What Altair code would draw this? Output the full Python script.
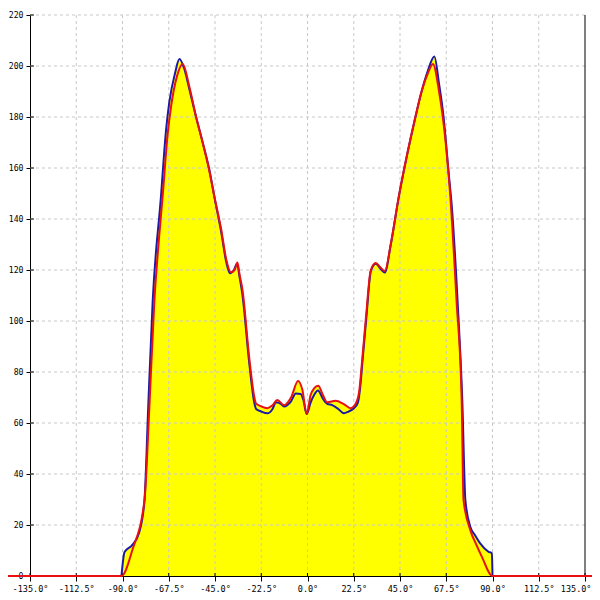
import altair as alt
import pandas as pd

# ---- data ----
red_x = [-180, -90.5, -85.2, -79.3, -77.0, -74.5, -72.5, -70.5, -68.0, -66.4, -63.5, -60.7,
         -57.5, -54.2, -51.0, -47.8, -45.3, -42.0, -39.5, -37.3, -35.5, -34.1, -33.0, -31.6,
         -28.4, -25.9, -25.1, -22.5, -19.5, -17.0, -14.7, -11.4, -8.0, -4.6, -2.5, -0.4,
         1.5, 3.2, 5.2, 7.5, 9.6, 13.7, 17.5, 21.0, 23.0, 25.0, 26.6, 28.5, 30.8, 33.2,
         35.5, 37.6, 40.5, 44.4, 48.4, 52.5, 55.5, 58.5, 61.0, 64.0, 67.1, 69.5, 72.5,
         75.0, 75.9, 79.2, 82.0, 84.8, 90.0, 180]
red_y = [0, 0, 10.2, 29.8, 65, 108, 130, 148.7, 173.6, 184, 196, 200.8,
         192, 180, 170, 159, 148.7, 136, 124, 119.1, 120, 122.9, 118, 112,
         86, 70.3, 67.7, 66.5, 65.8, 67, 69, 67, 70, 76.5, 73, 63.5,
         71, 73.6, 74.6, 71, 68.1, 68.7, 67.5, 65.8, 67, 71.6, 84.7, 102, 120, 122.7,
         121, 119.6, 130, 148.7, 165, 180, 190, 197, 200.8, 190, 171, 148.7, 108,
         69, 29.8, 18, 12.5, 7.6, 0, 0]

blue_x = [-90.5, -89.0, -85.2, -81.8, -79.3, -77.5, -75.3, -71.3, -68.8, -67.2, -64.5, -62.3,
          -60.0, -57.5, -54.2, -51.0, -47.8, -45.3, -42.0, -39.5, -37.7, -35.8, -34.3, -33.0,
          -31.6, -28.4, -25.9, -25.0, -22.5, -19.5, -17.0, -15.4, -13.0, -11.4, -8.0, -5.7,
          -3.3, -2.0, -0.4, 1.5, 3.2, 5.1, 7.5, 9.6, 12.0, 15.0, 17.7, 20.0, 22.6, 24.5,
          25.5, 26.8, 28.7, 30.8, 33.2, 35.5, 37.6, 40.5, 44.4, 48.4, 52.5, 55.5, 58.5,
          61.7, 64.0, 66.2, 68.7, 70.2, 73.0, 75.3, 76.8, 79.2, 81.5, 84.0, 88.1, 89.7, 90.0]
blue_y = [0, 9.4, 12.2, 17.3, 29.8, 66, 108, 148.7, 175, 186, 197, 202.7,
          199, 191, 180, 170, 159.5, 148.7, 135, 123, 118.7, 120, 122.5, 117,
          110, 84, 68, 65.5, 64.5, 63.8, 65.5, 68.1, 67.5, 66.5, 68.5, 71.6,
          71.4, 69, 63.5, 68, 71, 72.7, 69.5, 67.5, 67, 65.5, 63.8, 64.5, 65.8, 68,
          73, 84.7, 102, 119.5, 122.5, 120.5, 119, 130, 148.7, 165, 180, 190, 198,
          203.7, 193, 180, 157.9, 145, 108, 69, 29.8, 19.3, 16, 12.8, 9.5, 8.9, 0]

x_ticks = [-135, -112.5, -90, -67.5, -45, -22.5, 0, 22.5, 45, 67.5, 90, 112.5, 135]
y_ticks = [0, 20, 40, 60, 80, 100, 120, 140, 160, 180, 200, 220]

red = pd.DataFrame({"x": red_x, "y": red_y})
blue = pd.DataFrame({"x": blue_x, "y": blue_y})
xt = pd.DataFrame({"v": x_ticks})
yt = pd.DataFrame({"v": y_ticks})
xgrid = pd.DataFrame({"v": x_ticks[1:-1]})
ygrid = pd.DataFrame({"v": y_ticks[1:]})
xright = pd.DataFrame({"v": x_ticks[-1:]})

W, H = 555, 561
FONT = "DejaVu Sans Mono"

xs = alt.Scale(domain=[-135, 135], nice=False, zero=False)
ys = alt.Scale(domain=[0, 220], nice=False, zero=False)

xaxis = alt.Axis(values=x_ticks, grid=False, title="",
                 labelExpr="(datum.value < 0 ? '-' : '') + format(abs(datum.value), '.1f') + '°'",
                 tickSize=5, tickColor="black", domainColor="black",
                 labelFont=FONT, labelFontSize=8.5, labelColor="black",
                 labelAlign={"condition": {"test": "datum.value >= 135", "value": "right"}, "value": "center"},
                 labelOffset={"condition": {"test": "datum.value >= 135", "value": 6}, "value": 0},
                 labelPadding=3, labelFlush=False, labelOverlap=False)
yaxis = alt.Axis(values=y_ticks, grid=False, title="", format="d",
                 tickSize=4, tickColor="black", domainColor="black",
                 labelFont=FONT, labelFontSize=8.2, labelColor="black",
                 labelPadding=3, labelFlush=False, labelOverlap=False)

X = lambda f: alt.X(f, scale=xs, axis=xaxis)
Y = lambda f: alt.Y(f, scale=ys, axis=yaxis)

area_blue = alt.Chart(blue).mark_area(color="#ffff00", interpolate="monotone").encode(x=X("x:Q"), y=Y("y:Q"))
area_red = alt.Chart(red).mark_area(color="#ffff00", interpolate="monotone").encode(x=X("x:Q"), y=Y("y:Q"))

grid_x = alt.Chart(xgrid).mark_rule(color="#c8c8c8", strokeDash=[3, 3], strokeWidth=1).encode(x=X("v:Q"))
grid_y = alt.Chart(ygrid).mark_rule(color="#c8c8c8", strokeDash=[3, 3], strokeWidth=1).encode(y=Y("v:Q"))
right_line = alt.Chart(xright).mark_rule(color="black", strokeWidth=1).encode(x=X("v:Q"))

tick_in_x = alt.Chart(xt).mark_rule(color="black", strokeWidth=1).encode(
    x=X("v:Q"), y=alt.value(H - 3), y2=alt.value(H))
tick_in_y = alt.Chart(yt).mark_rule(color="black", strokeWidth=1).encode(
    y=Y("v:Q"), x=alt.value(0), x2=alt.value(4))

line_blue = alt.Chart(blue).mark_line(color="#1a1aa6", strokeWidth=2, interpolate="monotone").encode(
    x=X("x:Q"), y=Y("y:Q"), order="x:Q")
line_red = alt.Chart(red).mark_line(color="#e81010", strokeWidth=2, interpolate="monotone").encode(
    x=X("x:Q"), y=Y("y:Q"), order="x:Q")

chart = alt.layer(
    area_blue, area_red, grid_x, grid_y, right_line, tick_in_x, tick_in_y, line_blue, line_red
).properties(
    width=W, height=H,
    padding={"left": 22, "top": 7, "right": 7, "bottom": 20},
    autosize=alt.AutoSizeParams(type="none"),
    background="white",
).configure_view(strokeWidth=0)

chart.save("out.html", embed_options={"renderer": "svg", "actions": False})
